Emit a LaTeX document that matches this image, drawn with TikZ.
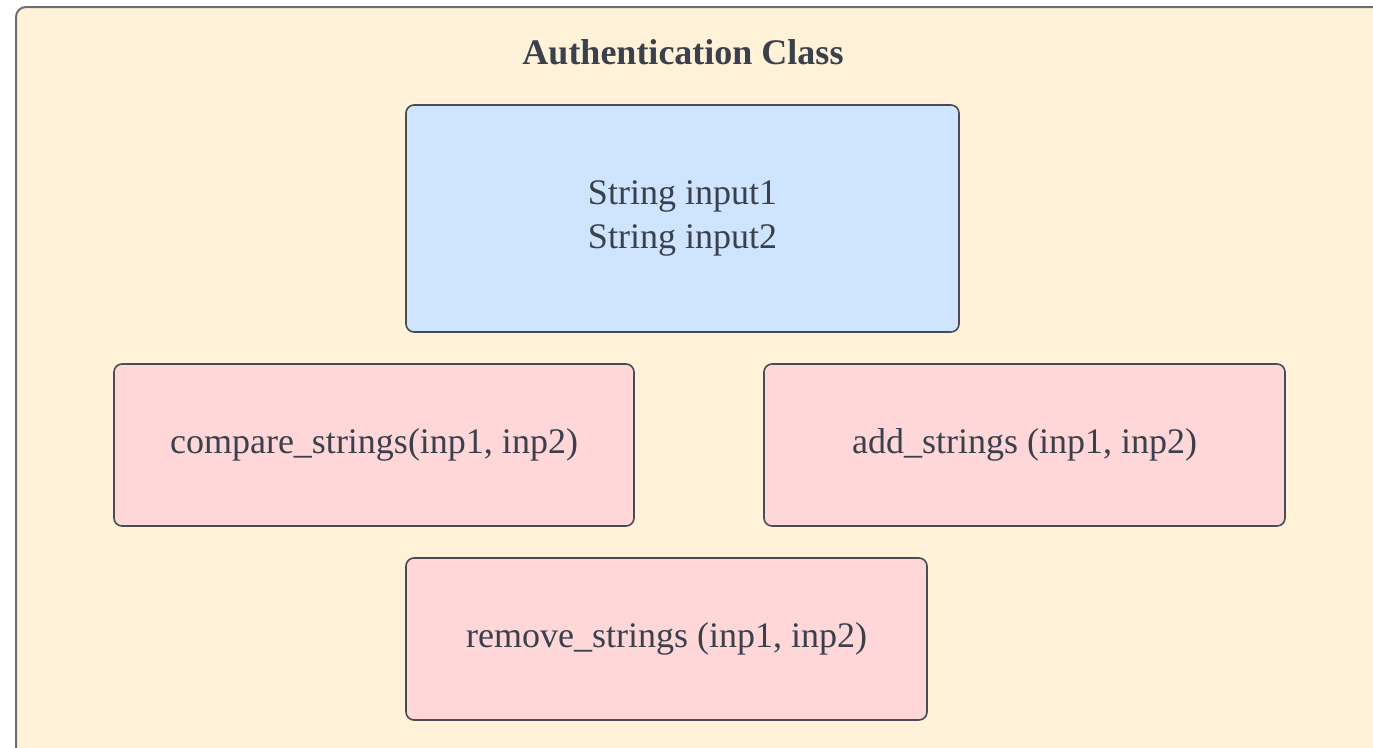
\documentclass[tikz,border=0pt]{standalone}
\usepackage{fontspec}
\setmainfont{Liberation Serif}
\definecolor{outerfill}{HTML}{FFF2D9}
\definecolor{outerline}{HTML}{6B6E73}
\definecolor{bluefill}{HTML}{CFE4FF}
\definecolor{pinkfill}{HTML}{FFD7D9}
\definecolor{boxline}{HTML}{474C55}
\definecolor{txt}{HTML}{3A414D}
\tikzset{
  card/.style={draw=boxline, line width=1.6pt, rounded corners=8pt, align=center,
    text=txt, font=\fontsize{36}{44}\selectfont, inner sep=0pt},
  fieldbox/.style={card, fill=bluefill},
  methodbox/.style={card, fill=pinkfill},
}
\begin{document}
\begin{tikzpicture}[x=1pt,y=-1pt]
\useasboundingbox (0,0) rectangle (1373,747);
\clip (0,0) rectangle (1373,747);
\draw[outerline, fill=outerfill, line width=2pt, rounded corners=10pt] (16,7) rectangle (1420,800);
\node[anchor=base, text=txt, font=\fontsize{36}{41}\selectfont\bfseries] (title) at (683,64) {Authentication Class};
\node[fieldbox, minimum width=553pt, minimum height=227pt] (fields) at (682.5,218.5) {String input1\\String input2};
\node[methodbox, minimum width=520pt, minimum height=162pt] (compare) at (374,445) {compare\_strings(inp1, inp2)};
\node[methodbox, minimum width=521pt, minimum height=162pt] (add) at (1024.5,445) {add\_strings (inp1, inp2)};
\node[methodbox, minimum width=521pt, minimum height=162pt] (remove) at (666.5,639) {remove\_strings (inp1, inp2)};
\end{tikzpicture}
\end{document}
